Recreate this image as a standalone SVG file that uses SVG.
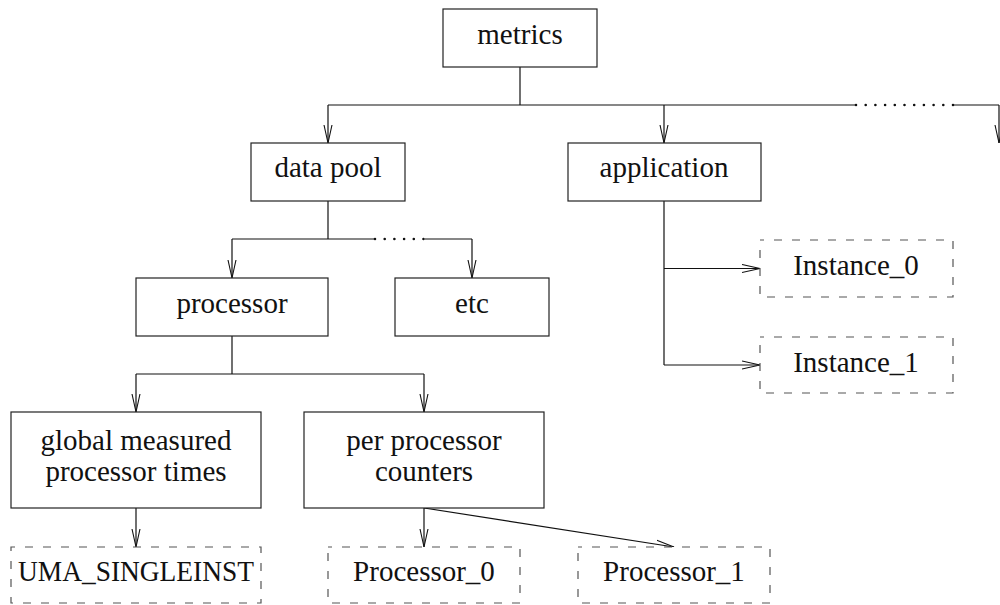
<svg xmlns="http://www.w3.org/2000/svg" width="1000" height="605" viewBox="0 0 1000 605">
<style>
.box{fill:#fff;stroke:#222;stroke-width:1.2}
.dbox{fill:#fff;stroke:#555;stroke-width:1.2;stroke-dasharray:8 10;stroke-dashoffset:4}
.lbl{font-family:"Liberation Serif","Times New Roman",serif;font-size:29px;fill:#111;text-anchor:middle}
.c{fill:none;stroke:#111;stroke-width:1.2}
.dots{fill:none;stroke:#111;stroke-width:2.6;stroke-linecap:round;stroke-dasharray:0 9.7}
</style>
<defs>
<marker id="arr" markerUnits="userSpaceOnUse" markerWidth="20" markerHeight="10" refX="18" refY="4.5" orient="auto" viewBox="0 0 20 9">
<path d="M0,0.5 L18,4.5 L0,8.5" fill="none" stroke="#111" stroke-width="1.1"/>
</marker>
</defs>
<g id="connectors">
<path class="c" d="M520,67 V105"/>
<path class="c" d="M328,105 H856"/>
<path class="dots" d="M856,105 H955"/>
<path class="c" d="M953,105 H999"/>
<path class="c" d="M328,105 V143" marker-end="url(#arr)"/>
<path class="c" d="M664,105 V143" marker-end="url(#arr)"/>
<path class="c" d="M999,105 V143" marker-end="url(#arr)"/>
<path class="c" d="M328,201 V239"/>
<path class="c" d="M232,239 H375"/>
<path class="dots" d="M375,239 H427"/>
<path class="c" d="M425,239 H472"/>
<path class="c" d="M232,239 V278" marker-end="url(#arr)"/>
<path class="c" d="M472,239 V278" marker-end="url(#arr)"/>
<path class="c" d="M664,201 V365"/>
<path class="c" d="M664,268.5 H760" marker-end="url(#arr)"/>
<path class="c" d="M664,365 H760" marker-end="url(#arr)"/>
<path class="c" d="M232,336 V374"/>
<path class="c" d="M136,374 H424"/>
<path class="c" d="M136,374 V412" marker-end="url(#arr)"/>
<path class="c" d="M424,374 V412" marker-end="url(#arr)"/>
<path class="c" d="M136,508 V547" marker-end="url(#arr)"/>
<path class="c" d="M424,508 V547" marker-end="url(#arr)"/>
<path class="c" d="M424,508 L674,547" marker-end="url(#arr)"/>
</g>
<g id="metrics"><rect class="box" x="443" y="9" width="154" height="58"/><text class="lbl" x="520" y="44">metrics</text></g>
<g id="datapool"><rect class="box" x="251" y="143" width="154" height="58"/><text class="lbl" x="328" y="177">data pool</text></g>
<g id="application"><rect class="box" x="568" y="143" width="193" height="58"/><text class="lbl" x="664" y="177">application</text></g>
<g id="processor"><rect class="box" x="136" y="278" width="192" height="58"/><text class="lbl" x="232" y="313">processor</text></g>
<g id="etc"><rect class="box" x="395" y="278" width="154" height="58"/><text class="lbl" x="472" y="313">etc</text></g>
<g id="instance0"><rect class="dbox" x="760" y="240" width="193" height="57"/><text class="lbl" x="856" y="275">Instance_0</text></g>
<g id="instance1"><rect class="dbox" x="760" y="337" width="193" height="56"/><text class="lbl" x="856" y="372">Instance_1</text></g>
<g id="global"><rect class="box" x="11" y="412" width="250" height="96"/><text class="lbl" x="136" y="450">global measured</text><text class="lbl" x="136" y="481">processor times</text></g>
<g id="perproc"><rect class="box" x="304" y="412" width="240" height="96"/><text class="lbl" x="424" y="450">per processor</text><text class="lbl" x="424" y="481">counters</text></g>
<g id="uma"><rect class="dbox" x="11" y="547" width="250" height="56"/><text class="lbl" x="136" y="581" textLength="236" lengthAdjust="spacingAndGlyphs">UMA_SINGLEINST</text></g>
<g id="processor0"><rect class="dbox" x="328" y="547" width="192" height="56"/><text class="lbl" x="424" y="581">Processor_0</text></g>
<g id="processor1"><rect class="dbox" x="578" y="547" width="192" height="56"/><text class="lbl" x="674" y="581">Processor_1</text></g>
</svg>
